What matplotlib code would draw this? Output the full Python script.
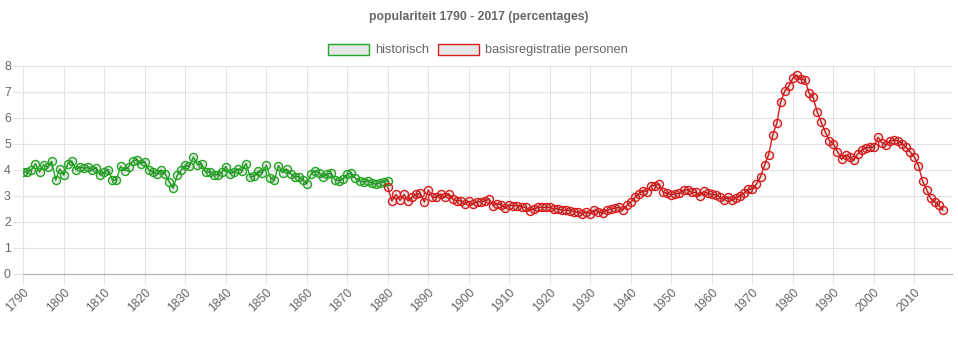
import matplotlib
matplotlib.use('Agg')
import matplotlib.pyplot as plt
from matplotlib.patches import Patch

# populariteit per jaar (percentages)
hist_years = list(range(1790, 1881))
hist_values = [
    3.92, 3.92, 4.00, 4.24, 3.92, 4.20, 4.11, 4.33, 3.61, 4.04,
    3.80, 4.25, 4.34, 4.01, 4.13, 4.06, 4.10, 4.00, 4.09, 3.80,
    3.91, 4.01, 3.61, 3.61, 4.14, 3.98, 4.13, 4.34, 4.40, 4.25,
    4.31, 4.00, 3.93, 3.83, 4.00, 3.86, 3.55, 3.30, 3.79, 4.01,
    4.18, 4.14, 4.50, 4.20, 4.24, 3.92, 3.92, 3.82, 3.82, 3.91,
    4.13, 3.86, 3.92, 4.04, 3.98, 4.25, 3.74, 3.76, 3.95, 3.90,
    4.18, 3.70, 3.62, 4.17, 3.90, 4.04, 3.85, 3.74, 3.74, 3.62,
    3.47, 3.83, 3.97, 3.90, 3.72, 3.85, 3.87, 3.62, 3.59, 3.67,
    3.85, 3.87, 3.68, 3.59, 3.54, 3.58, 3.51, 3.45, 3.51, 3.55,
    3.58,
]

brp_years = list(range(1880, 2018))
brp_values = [
    3.33, 2.81, 3.06, 2.83, 3.06, 2.81, 2.96, 3.06, 3.10, 2.77,
    3.23, 2.95, 2.95, 3.08, 2.95, 3.09, 2.88, 2.82, 2.82, 2.69,
    2.79, 2.68, 2.78, 2.78, 2.81, 2.88, 2.63, 2.71, 2.67, 2.53,
    2.65, 2.63, 2.63, 2.59, 2.56, 2.44, 2.49, 2.56, 2.56, 2.56,
    2.56, 2.50, 2.51, 2.45, 2.46, 2.44, 2.40, 2.37, 2.32, 2.38,
    2.32, 2.46, 2.40, 2.33, 2.45, 2.50, 2.53, 2.56, 2.47, 2.64,
    2.77, 2.95, 3.09, 3.21, 3.17, 3.40, 3.40, 3.46, 3.14, 3.10,
    3.04, 3.09, 3.10, 3.22, 3.24, 3.14, 3.14, 3.01, 3.18, 3.10,
    3.06, 3.04, 2.96, 2.85, 2.96, 2.83, 2.94, 3.00, 3.12, 3.27,
    3.26, 3.46, 3.74, 4.18, 4.59, 5.33, 5.79, 6.63, 7.04, 7.23,
    7.54, 7.64, 7.49, 7.46, 6.95, 6.79, 6.23, 5.83, 5.46, 5.13,
    5.00, 4.71, 4.41, 4.58, 4.50, 4.37, 4.62, 4.77, 4.85, 4.87,
    4.88, 5.26, 5.05, 4.96, 5.13, 5.14, 5.12, 5.01, 4.87, 4.69,
    4.50, 4.17, 3.58, 3.24, 2.91, 2.77, 2.64, 2.46,
]

x_ticks = list(range(1790, 2011, 10))
y_ticks = list(range(0, 9))

green = '#22a822'
red = '#dc1c1c'
text_grey = '#666666'
fill = (0, 0, 0, 0.1)

plt.rcParams['font.family'] = ['Liberation Sans', 'DejaVu Sans']

fig = plt.figure(figsize=(9.58, 3.5), dpi=100)
ax = fig.add_axes([23.3 / 958, 76 / 350, 928.4 / 958, 208 / 350])

ax.plot(hist_years, hist_values, color=green, linewidth=1.0, marker='o',
        markersize=5.8, markerfacecolor=fill, markeredgecolor=green,
        markeredgewidth=1.0, zorder=3)
ax.plot(brp_years, brp_values, color=red, linewidth=1.0, marker='o',
        markersize=5.8, markerfacecolor=fill, markeredgecolor=red,
        markeredgewidth=1.0, zorder=3)

ax.set_xlim(1790, 2019.2)
ax.set_ylim(0, 8)
ax.set_xticks(x_ticks)
ax.set_yticks(y_ticks)
ax.set_xticklabels([str(y) for y in x_ticks], rotation=45, ha='right',
                   rotation_mode='anchor', color=text_grey, fontsize=8.8)
ax.set_yticklabels([str(v) for v in y_ticks], color=text_grey, fontsize=8.8)

ax.grid(True, color='#e3e3e3', linewidth=0.8, zorder=0)
ax.tick_params(axis='both', length=7, width=0.8, color='#e3e3e3')
ax.tick_params(axis='x', pad=2)
ax.tick_params(axis='y', pad=2)

for side in ['top', 'right']:
    ax.spines[side].set_visible(False)
ax.spines['left'].set_color('#e3e3e3')
ax.spines['left'].set_linewidth(0.8)
ax.spines['bottom'].set_color('#b3b3b3')
ax.spines['bottom'].set_linewidth(0.9)

fig.text(0.5, 1 - 17 / 350, 'populariteit 1790 - 2017 (percentages)',
         ha='center', va='center', fontsize=8.8, fontweight='bold',
         color=text_grey)

handles = [Patch(facecolor='#e6e6e6', edgecolor=green, linewidth=1.0),
           Patch(facecolor='#e6e6e6', edgecolor=red, linewidth=1.0)]
fig.legend(handles, ['historisch', 'basisregistratie personen'],
           loc='center', bbox_to_anchor=(478 / 958, 1 - 50 / 350), ncol=2,
           frameon=False, fontsize=9.2, handlelength=3.2, handleheight=0.95,
           handletextpad=0.45, columnspacing=0.75, labelcolor=text_grey,
           borderpad=0, borderaxespad=0)

fig.savefig('out.png', dpi=100)
